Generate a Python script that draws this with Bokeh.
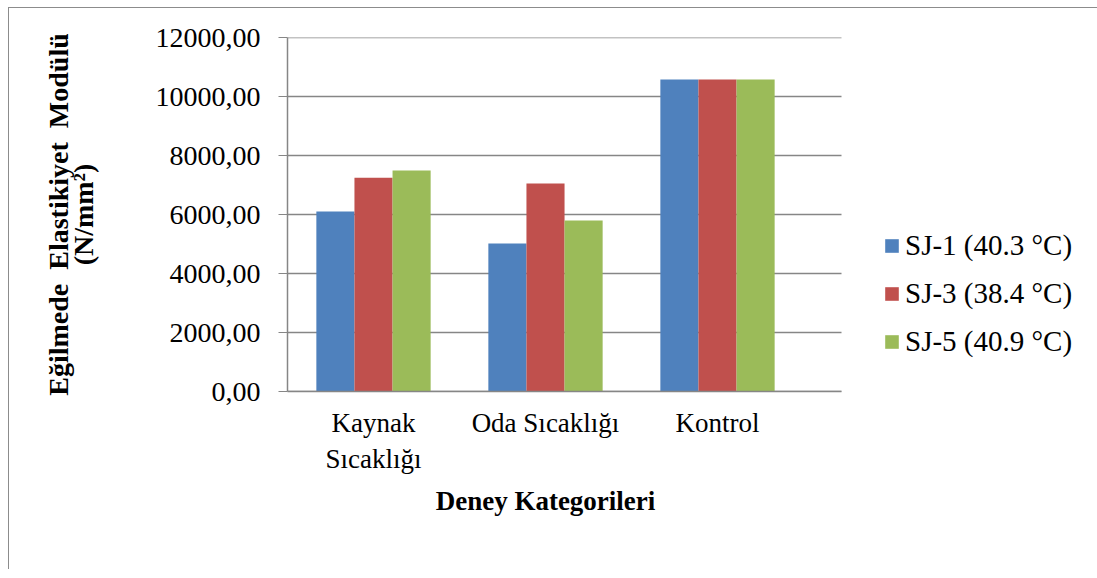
from bokeh.plotting import figure
from bokeh.models import (Range1d, FixedTicker, Legend, LegendItem,
                          ColumnDataSource, LinearAxis)
from bokeh.embed import file_html
from bokeh.resources import INLINE

categories = ["Kaynak\nSıcaklığı", "Oda Sıcaklığı", "Kontrol"]
series_names = ["SJ-1 (40.3 °C)", "SJ-3 (38.4 °C)", "SJ-5 (40.9 °C)"]
sj1 = [6100, 5020, 10580]
sj3 = [7250, 7050, 10580]
sj5 = [7490, 5800, 10580]
y_ticks = [0, 2000, 4000, 6000, 8000, 10000, 12000]
y_tick_labels = ["0,00", "2000,00", "4000,00", "6000,00", "8000,00", "10000,00", "12000,00"]
y_title = "Eğilmede\u00a0 Elastikiyet\u00a0 Modülü\n(N/mm²)"
x_title = "Deney Kategorileri"

colors = ["#4F81BD", "#C0504D", "#9BBB59"]
FONT = "Liberation Serif"
FS = "27px"
GRAY = "#868686"

W, H = 1089, 562
left_b, top_b, right_b = 278, 29, 4
frame_h = 354
frame_w = W - left_b - right_b
cat_px = 172.0
area_end = 554 / cat_px          # plot area (gridlines) end, in category units

p = figure(width=W, height=H, output_backend="svg", toolbar_location=None,
           x_range=Range1d(0, frame_w / cat_px), y_range=Range1d(0, 12000),
           min_border_left=left_b, min_border_right=right_b,
           min_border_top=top_b, min_border_bottom=H - top_b - frame_h)
p.outline_line_color = None
p.background_fill_color = "white"
p.border_fill_color = "white"
p.styles = {"margin-left": "8px", "margin-top": "7px",
            "border-left": "1px solid #8c8c8c", "border-top": "1px solid #8c8c8c"}

# horizontal gridlines limited to the plot area
p.xgrid.grid_line_color = None
p.ygrid.grid_line_color = None
p.segment(x0=[0] * len(y_ticks), x1=[area_end] * len(y_ticks), y0=y_ticks, y1=y_ticks,
          line_color=GRAY, line_width=1.3)

xc = [i + 0.5 for i in range(len(categories))]
bw = 0.2215
items = []
for k, (vals, name, c) in enumerate(zip([sj1, sj3, sj5], series_names, colors)):
    src = ColumnDataSource(dict(x=[v + (k - 1) * bw for v in xc], top=vals))
    r = p.vbar(x="x", top="top", width=bw, source=src, fill_color=c, line_color=None)
    items.append(LegendItem(label=name, renderers=[r]))

# y axis
yax = p.yaxis[0]
yax.ticker = FixedTicker(ticks=y_ticks)
yax.major_label_overrides = {t: l for t, l in zip(y_ticks, y_tick_labels)}
yax.major_label_text_font = FONT
yax.major_label_text_font_size = "28px"
yax.major_label_text_color = "black"
yax.major_tick_out = 9
yax.major_tick_in = 0
yax.minor_tick_out = 0
yax.minor_tick_in = 0
yax.major_tick_line_color = GRAY
yax.axis_line_color = GRAY
yax.axis_line_width = 1.5
yax.major_label_standoff = 18
yax.axis_label = y_title
yax.axis_label_text_font = FONT
yax.axis_label_text_font_size = "28px"
yax.axis_label_text_font_style = "bold"
yax.axis_label_text_color = "black"
yax.axis_label_text_line_height = 0.8
yax.axis_label_standoff = 54

# x axis
xax = p.xaxis[0]
xax.bounds = (0, area_end)
xax.ticker = FixedTicker(ticks=xc)
xax.major_label_overrides = {x: c for x, c in zip(xc, categories)}
xax.major_label_text_font = FONT
xax.major_label_text_font_size = FS
xax.major_label_text_color = "black"
xax.major_tick_out = 0
xax.major_tick_in = 0
xax.minor_tick_out = 0
xax.minor_tick_in = 0
xax.axis_line_color = GRAY
xax.axis_line_width = 1.5
xax.major_label_standoff = 16

# x-axis title centred under the middle category
tax = LinearAxis(ticker=FixedTicker(ticks=[xc[1]]),
                 major_label_overrides={xc[1]: x_title})
tax.axis_line_color = None
tax.major_tick_line_color = None
tax.minor_tick_line_color = None
tax.major_tick_out = 0
tax.major_label_text_font = FONT
tax.major_label_text_font_size = FS
tax.major_label_text_font_style = "bold"
tax.major_label_text_color = "black"
tax.major_label_standoff = 9
p.add_layout(tax, "below")

legend = Legend(items=items, location=(596, 33), orientation="vertical")
legend.label_text_font = FONT
legend.label_text_font_size = "29px"
legend.label_text_color = "black"
legend.glyph_width = 17
legend.glyph_height = 17
legend.label_height = 17
legend.label_standoff = 5
legend.spacing = 15
legend.padding = 0
legend.margin = 0
legend.border_line_color = None
legend.background_fill_alpha = 0
p.add_layout(legend)

open("out.html", "w").write(file_html(p, INLINE))
